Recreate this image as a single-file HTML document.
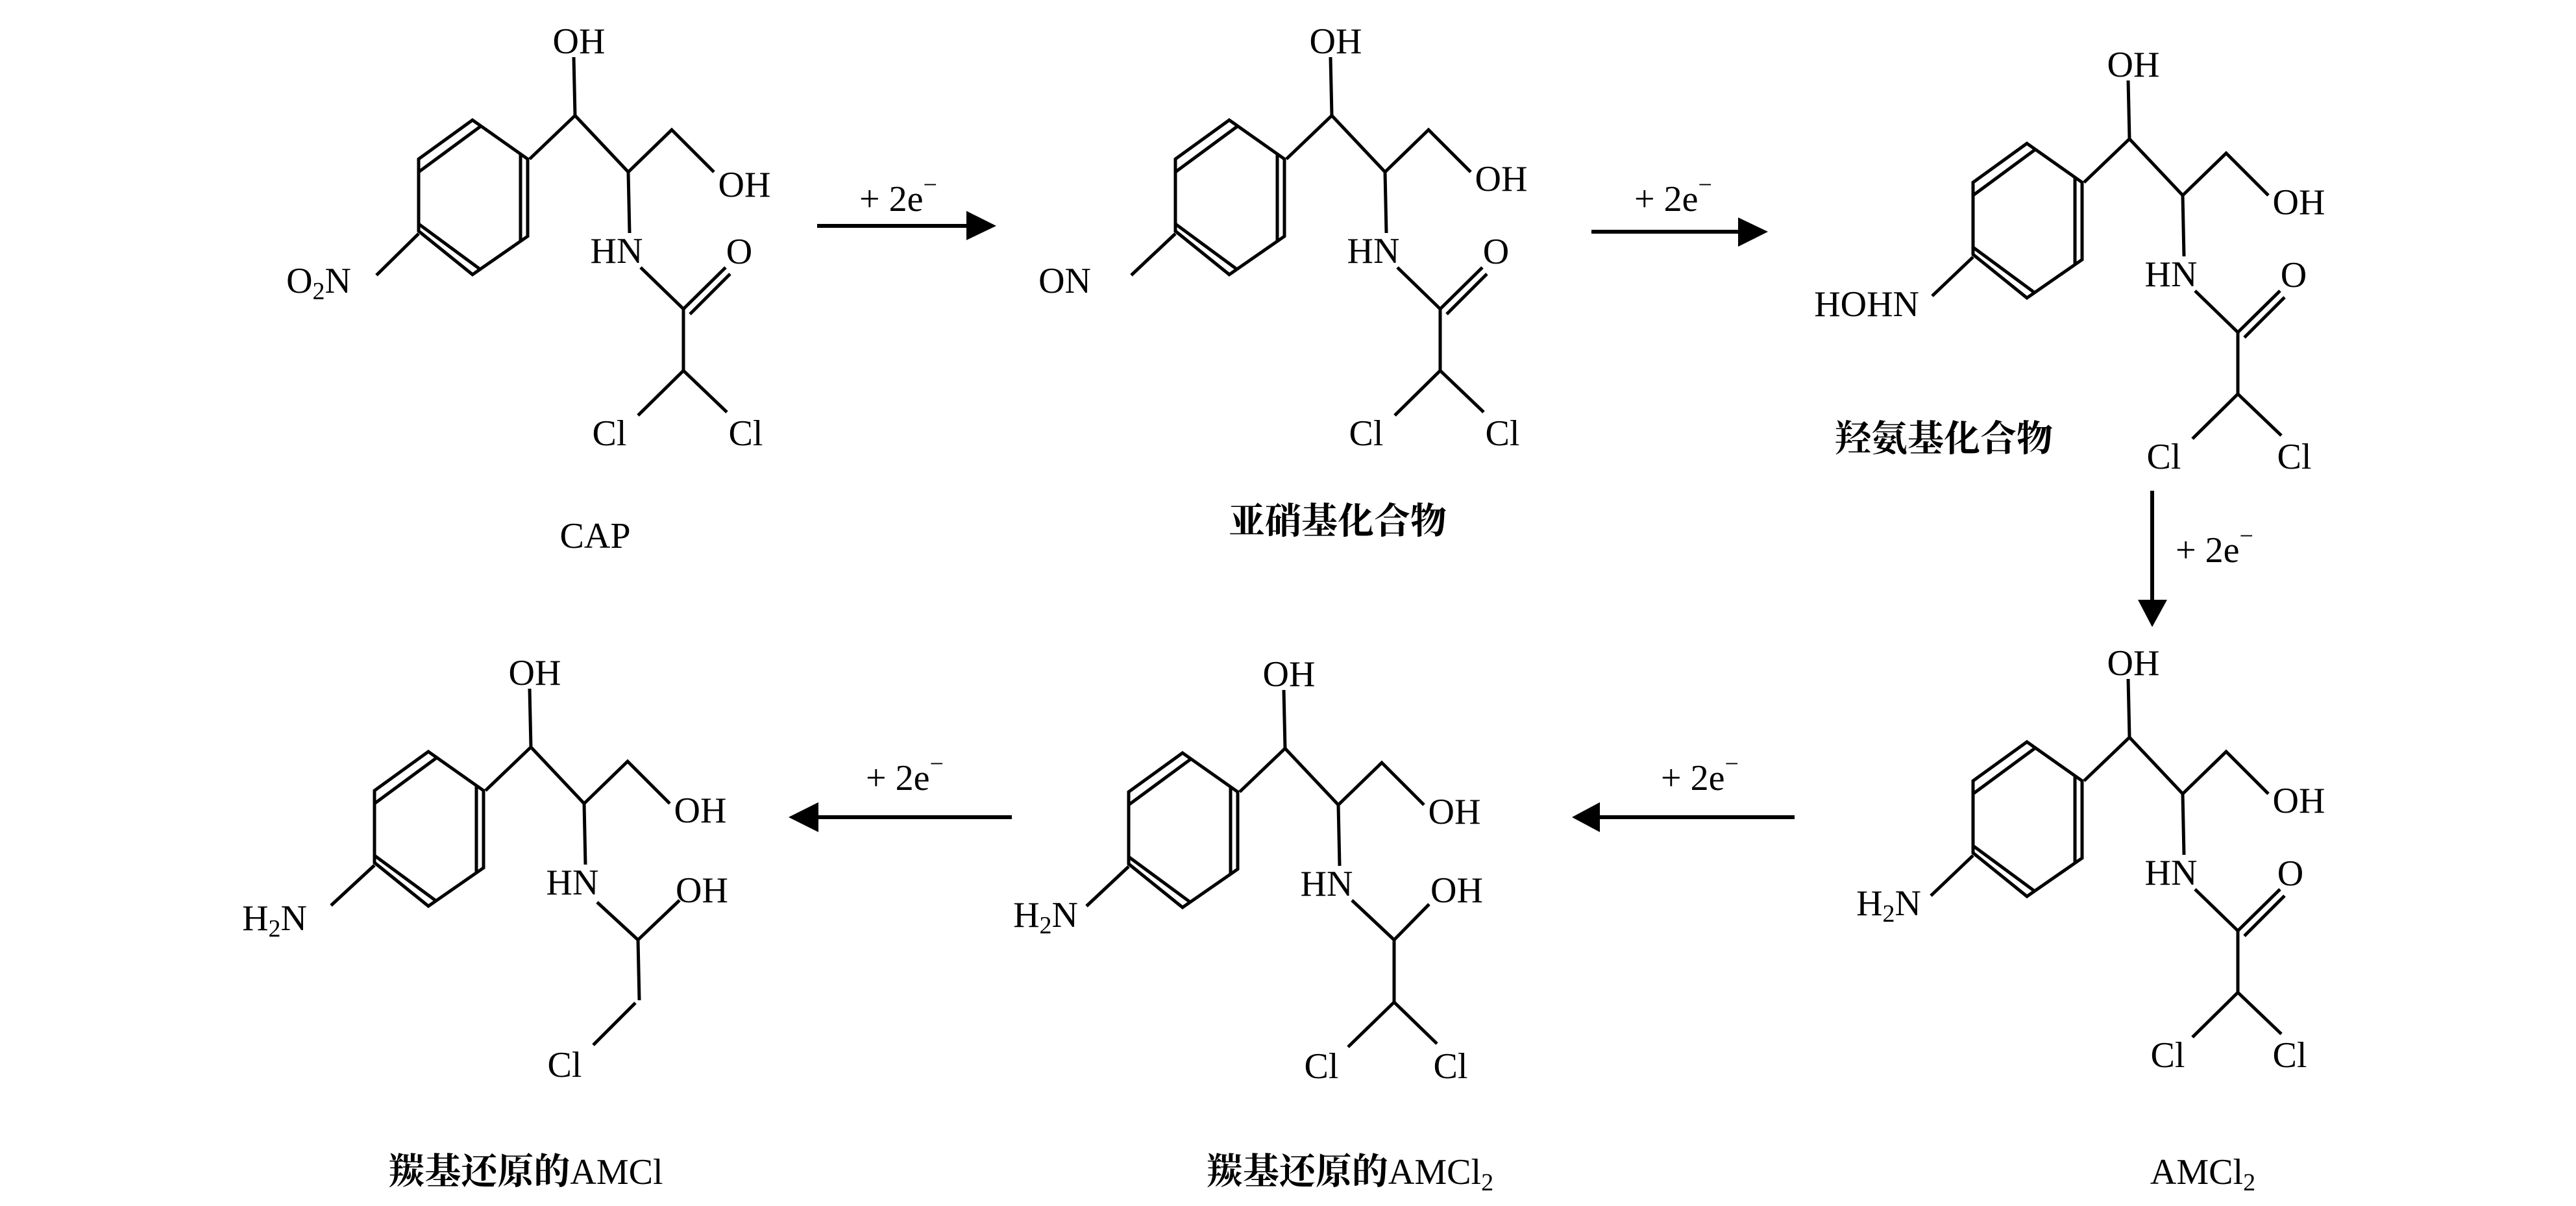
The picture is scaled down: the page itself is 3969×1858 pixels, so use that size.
<!DOCTYPE html>
<html>
<head>
<meta charset="utf-8">
<style>
html,body{margin:0;padding:0;background:#fff;}
svg{display:block;}
text{font-family:"Liberation Serif","Noto Serif CJK SC",serif;font-size:56px;fill:#000;}
.cjk{font-family:"Liberation Serif","Noto Serif CJK SC",serif;font-weight:700;}
.b line,.b polyline,.b polygon{stroke:#000;stroke-width:5;fill:none;stroke-linejoin:miter;}
.ar{stroke:#000;stroke-width:6;}
</style>
</head>
<body>
<svg width="3969" height="1858" viewBox="0 0 3969 1858" xmlns="http://www.w3.org/2000/svg">
<rect x="0" y="0" width="3969" height="1858" fill="#fff"/>

<!-- ===== Molecule 1: CAP ===== -->
<g transform="translate(0,0)">
 <g class="b">
  <line x1="884" y1="88" x2="886" y2="178"/>
  <polyline points="816,245 886,178 968,265 1035,200 1100,265"/>
  <line x1="968" y1="265" x2="970" y2="359"/>
  <polygon points="728,185 813,245 813,364 728,423 645,356 645,245"/>
  <line x1="740" y1="195" x2="645" y2="265"/>
  <line x1="802" y1="238" x2="802" y2="372"/>
  <line x1="740" y1="415" x2="645" y2="345"/>
  <line x1="645" y1="360" x2="580" y2="424"/>
  <line x1="987" y1="412" x2="1053" y2="476"/>
  <line x1="1053" y1="476" x2="1118" y2="412"/>
  <line x1="1063" y1="484" x2="1125" y2="422"/>
  <line x1="1053" y1="476" x2="1053" y2="571"/>
  <polyline points="983,640 1053,571 1120,635"/>
 </g>
 <text x="892" y="82" text-anchor="middle">OH</text>
 <text x="1147" y="303" text-anchor="middle">OH</text>
 <text x="950" y="405" text-anchor="middle">HN</text>
 <text x="1139" y="406" text-anchor="middle">O</text>
 <text x="939" y="686" text-anchor="middle">Cl</text>
 <text x="1149" y="686" text-anchor="middle">Cl</text>
 <text x="541" y="451" text-anchor="end">O<tspan font-size="38" dy="10">2</tspan><tspan dy="-10">N</tspan></text>
</g>
<text x="917" y="844" text-anchor="middle">CAP</text>

<!-- ===== Molecule 2: nitroso ===== -->
<g transform="translate(1166,0)">
 <g class="b">
  <line x1="884" y1="88" x2="886" y2="178"/>
  <polyline points="816,245 886,178 968,265 1035,200 1100,265"/>
  <line x1="968" y1="265" x2="970" y2="359"/>
  <polygon points="728,185 813,245 813,364 728,423 645,356 645,245"/>
  <line x1="740" y1="195" x2="645" y2="265"/>
  <line x1="802" y1="238" x2="802" y2="372"/>
  <line x1="740" y1="415" x2="645" y2="345"/>
  <line x1="645" y1="360" x2="577" y2="424"/>
  <line x1="987" y1="412" x2="1053" y2="476"/>
  <line x1="1053" y1="476" x2="1118" y2="412"/>
  <line x1="1063" y1="484" x2="1125" y2="422"/>
  <line x1="1053" y1="476" x2="1053" y2="571"/>
  <polyline points="983,640 1053,571 1120,635"/>
 </g>
 <text x="892" y="82" text-anchor="middle">OH</text>
 <text x="1147" y="294" text-anchor="middle">OH</text>
 <text x="950" y="405" text-anchor="middle">HN</text>
 <text x="1139" y="406" text-anchor="middle">O</text>
 <text x="939" y="686" text-anchor="middle">Cl</text>
 <text x="1149" y="686" text-anchor="middle">Cl</text>
 <text x="515" y="451" text-anchor="end">ON</text>
</g>
<text x="2061" y="822" text-anchor="middle" class="cjk">亚硝基化合物</text>

<!-- ===== Molecule 3: hydroxylamine ===== -->
<g transform="translate(2395,36)">
 <g class="b">
  <line x1="884" y1="88" x2="886" y2="178"/>
  <polyline points="816,245 886,178 968,265 1035,200 1100,265"/>
  <line x1="968" y1="265" x2="970" y2="359"/>
  <polygon points="728,185 813,245 813,364 728,423 645,356 645,245"/>
  <line x1="740" y1="195" x2="645" y2="265"/>
  <line x1="802" y1="238" x2="802" y2="372"/>
  <line x1="740" y1="415" x2="645" y2="345"/>
  <line x1="645" y1="360" x2="582" y2="420"/>
  <line x1="987" y1="412" x2="1053" y2="476"/>
  <line x1="1053" y1="476" x2="1118" y2="412"/>
  <line x1="1063" y1="484" x2="1125" y2="422"/>
  <line x1="1053" y1="476" x2="1053" y2="571"/>
  <polyline points="983,640 1053,571 1120,635"/>
 </g>
 <text x="892" y="82" text-anchor="middle">OH</text>
 <text x="1147" y="294" text-anchor="middle">OH</text>
 <text x="950" y="405" text-anchor="middle">HN</text>
 <text x="1139" y="406" text-anchor="middle">O</text>
 <text x="939" y="686" text-anchor="middle">Cl</text>
 <text x="1140" y="686" text-anchor="middle">Cl</text>
 <text x="562" y="451" text-anchor="end">HOHN</text>
</g>
<text x="2995" y="695" text-anchor="middle" class="cjk">羟氨基化合物</text>

<!-- ===== Molecule 4: AMCl2 ===== -->
<g transform="translate(2395,958)">
 <g class="b">
  <line x1="884" y1="88" x2="886" y2="178"/>
  <polyline points="816,245 886,178 968,265 1035,200 1100,265"/>
  <line x1="968" y1="265" x2="970" y2="359"/>
  <polygon points="728,185 813,245 813,364 728,423 645,356 645,245"/>
  <line x1="740" y1="195" x2="645" y2="265"/>
  <line x1="802" y1="238" x2="802" y2="372"/>
  <line x1="740" y1="415" x2="645" y2="345"/>
  <line x1="645" y1="360" x2="580" y2="422"/>
  <line x1="987" y1="412" x2="1053" y2="476"/>
  <line x1="1053" y1="476" x2="1118" y2="412"/>
  <line x1="1063" y1="484" x2="1125" y2="422"/>
  <line x1="1053" y1="476" x2="1053" y2="571"/>
  <polyline points="983,640 1053,571 1120,635"/>
 </g>
 <text x="892" y="82" text-anchor="middle">OH</text>
 <text x="1147" y="294" text-anchor="middle">OH</text>
 <text x="950" y="405" text-anchor="middle">HN</text>
 <text x="1134" y="406" text-anchor="middle">O</text>
 <text x="945" y="686" text-anchor="middle">Cl</text>
 <text x="1133" y="686" text-anchor="middle">Cl</text>
 <text x="565" y="452" text-anchor="end">H<tspan font-size="38" dy="10">2</tspan><tspan dy="-10">N</tspan></text>
</g>
<text x="3394" y="1824" text-anchor="middle">AMCl<tspan font-size="38" dy="10">2</tspan></text>

<!-- ===== Molecule 5: carbonyl-reduced AMCl2 ===== -->
<g transform="translate(1094,975)">
 <g class="b">
  <line x1="884" y1="88" x2="886" y2="178"/>
  <polyline points="816,245 886,178 968,265 1035,200 1100,265"/>
  <line x1="968" y1="265" x2="970" y2="359"/>
  <polygon points="728,185 813,245 813,364 728,423 645,356 645,245"/>
  <line x1="740" y1="195" x2="645" y2="265"/>
  <line x1="802" y1="238" x2="802" y2="372"/>
  <line x1="740" y1="415" x2="645" y2="345"/>
  <line x1="645" y1="360" x2="580" y2="421"/>
  <line x1="989" y1="412" x2="1054" y2="473"/>
  <polyline points="1108,418 1054,473 1054,569"/>
  <polyline points="983,638 1054,569 1120,633"/>
 </g>
 <text x="892" y="82" text-anchor="middle">OH</text>
 <text x="1147" y="294" text-anchor="middle">OH</text>
 <text x="950" y="405" text-anchor="middle">HN</text>
 <text x="1110" y="415" text-anchor="start">OH</text>
 <text x="942" y="686" text-anchor="middle">Cl</text>
 <text x="1141" y="686" text-anchor="middle">Cl</text>
 <text x="567" y="453" text-anchor="end">H<tspan font-size="38" dy="10">2</tspan><tspan dy="-10">N</tspan></text>
</g>
<text x="2080" y="1824" text-anchor="middle"><tspan class="cjk">羰基还原的</tspan>AMCl<tspan font-size="38" dy="10">2</tspan></text>

<!-- ===== Molecule 6: carbonyl-reduced AMCl ===== -->
<g transform="translate(-68,973)">
 <g class="b">
  <line x1="884" y1="88" x2="886" y2="178"/>
  <polyline points="816,245 886,178 968,265 1035,200 1100,265"/>
  <line x1="968" y1="265" x2="970" y2="359"/>
  <polygon points="728,185 813,245 813,364 728,423 645,356 645,245"/>
  <line x1="740" y1="195" x2="645" y2="265"/>
  <line x1="802" y1="238" x2="802" y2="372"/>
  <line x1="740" y1="415" x2="645" y2="345"/>
  <line x1="645" y1="360" x2="578" y2="422"/>
  <line x1="988" y1="417" x2="1051" y2="475"/>
  <polyline points="1115,414 1051,475 1053,568"/>
  <line x1="1047" y1="572" x2="982" y2="637"/>
 </g>
 <text x="892" y="82" text-anchor="middle">OH</text>
 <text x="1147" y="294" text-anchor="middle">OH</text>
 <text x="950" y="405" text-anchor="middle">HN</text>
 <text x="1109" y="417" text-anchor="start">OH</text>
 <text x="938" y="686" text-anchor="middle">Cl</text>
 <text x="541" y="460" text-anchor="end">H<tspan font-size="38" dy="10">2</tspan><tspan dy="-10">N</tspan></text>
</g>
<text x="810" y="1824" text-anchor="middle"><tspan class="cjk">羰基还原的</tspan>AMCl</text>

<!-- ===== Arrows ===== -->
<!-- 1 -->
<line class="ar" x1="1259" y1="348" x2="1492" y2="348"/>
<polygon points="1489,325 1535,348 1489,370" fill="#000"/>
<text x="1324" y="325">+ 2e<tspan font-size="38" dy="-28">−</tspan></text>
<!-- 2 -->
<line class="ar" x1="2452" y1="357" x2="2680" y2="357"/>
<polygon points="2678,335 2724,357 2678,380" fill="#000"/>
<text x="2518" y="325">+ 2e<tspan font-size="38" dy="-28">−</tspan></text>
<!-- 3 down -->
<line class="ar" x1="3316" y1="756" x2="3316" y2="926"/>
<polygon points="3294,924 3316,966 3339,924" fill="#000"/>
<text x="3352" y="866">+ 2e<tspan font-size="38" dy="-28">−</tspan></text>
<!-- 4 left -->
<line class="ar" x1="2765" y1="1259" x2="2463" y2="1259"/>
<polygon points="2465,1236 2422,1259 2465,1282" fill="#000"/>
<text x="2559" y="1217">+ 2e<tspan font-size="38" dy="-28">−</tspan></text>
<!-- 5 left -->
<line class="ar" x1="1559" y1="1259" x2="1259" y2="1259"/>
<polygon points="1261,1236 1215,1259 1261,1282" fill="#000"/>
<text x="1334" y="1217">+ 2e<tspan font-size="38" dy="-28">−</tspan></text>
</svg>
</body>
</html>
